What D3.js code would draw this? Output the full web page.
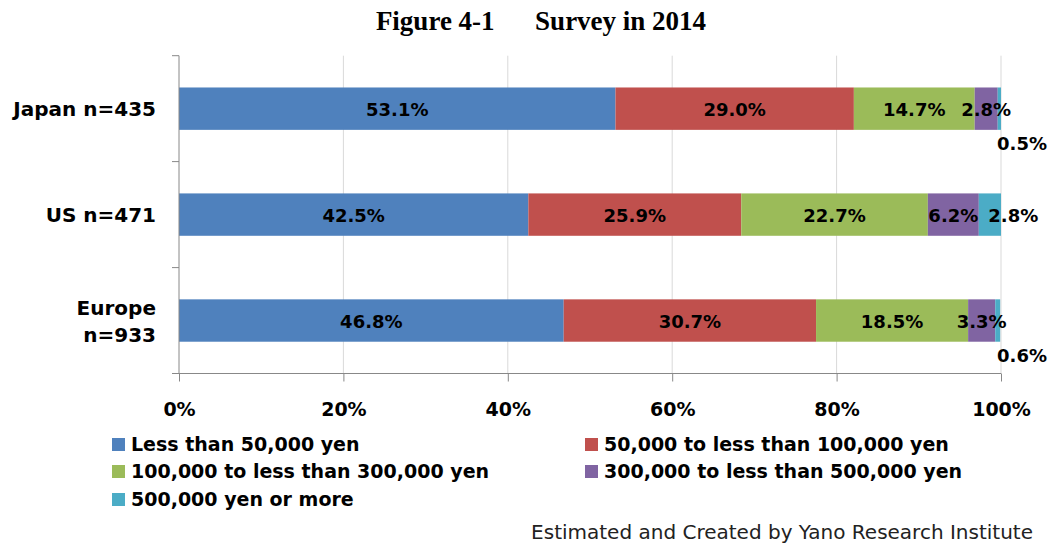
<!DOCTYPE html>
<html><head><meta charset="utf-8">
<script src="https://cdn.jsdelivr.net/npm/d3@7"></script>
<style>body{margin:0;background:#fff}svg{display:block}</style>
</head><body>
<svg id="c" width="1051" height="544"></svg>
<script>
const categories = ["Japan n=435", "US n=471", "Europe n=933"];
const seriesNames = ["Less than 50,000 yen", "50,000 to less than 100,000 yen", "100,000 to less than 300,000 yen", "300,000 to less than 500,000 yen", "500,000 yen or more"];
const japan = [53.1, 29.0, 14.7, 2.8, 0.5];
const us = [42.5, 25.9, 22.7, 6.2, 2.8];
const europe = [46.8, 30.7, 18.5, 3.3, 0.6];
const xTicks = [0, 20, 40, 60, 80, 100];
const colors = ["#4F81BD", "#C0504D", "#9BBB59", "#8064A2", "#4BACC6"];

const values = [japan, us, europe];
const svg = d3.select("#c");
const font = "'DejaVu Sans',sans-serif";

const x = d3.scaleLinear().domain([0, 100]).range([179, 1001]);
const y = d3.scaleBand().domain(categories).range([55.7, 373.5]).paddingInner(0.6).paddingOuter(0.3);

// title
svg.append("text").attr("x", 541).attr("y", 30).attr("text-anchor", "middle")
  .style("font-family", "'Liberation Serif','Times New Roman',serif").style("font-weight", "bold").style("font-size", "27px")
  .attr("xml:space", "preserve").text("Figure 4-1      Survey in 2014");

// gridlines
svg.append("g").selectAll("line").data(xTicks.filter(d => d > 0)).join("line")
  .attr("x1", d => x(d)).attr("x2", d => x(d)).attr("y1", 55.7).attr("y2", 373.5)
  .attr("stroke", "#d9d9d9").attr("stroke-width", 1);

// bars
const stackData = categories.map((c, i) => {
  let acc = 0;
  return values[i].map((v, j) => { const s = acc; acc += v; return {cat: c, j, v, s, e: acc}; });
});
const g = svg.append("g");
stackData.forEach(row => {
  g.selectAll(null).data(row).join("rect")
    .attr("x", d => x(d.s)).attr("width", d => Math.max(0, Math.min(x(d.e), x(100)) - x(d.s)))
    .attr("y", d => y(d.cat)).attr("height", y.bandwidth())
    .attr("fill", d => colors[d.j]);
});

// x axis
const xAxis = d3.axisBottom(x).tickValues(xTicks).tickFormat(d => d + "%").tickSize(8);
const xa = svg.append("g").attr("transform", "translate(0,373.5)").call(xAxis);
xa.select(".domain").attr("stroke", "#888").attr("d", "M179,0H1001");
xa.selectAll(".tick line").attr("stroke", "#888");
xa.selectAll(".tick text").attr("dy", "0").attr("y", 42)
  .style("font-family", font).style("font-weight", "bold").style("font-size", "19px").attr("fill", "#000");

// y axis
const yAxis = d3.axisLeft(y).tickSize(0).tickFormat("");
const ya = svg.append("g").attr("transform", "translate(179,0)").call(yAxis);
ya.select(".domain").attr("stroke", "#888").attr("d", "M0,55.7V373.5");
const bounds = [55.7, 161.6, 267.6, 373.5];
ya.selectAll(".bt").data(bounds).join("line").attr("class", "bt")
  .attr("x1", -7).attr("x2", 0).attr("y1", d => d).attr("y2", d => d).attr("stroke", "#888");

// category labels
categories.forEach((c, i) => {
  const cy = y(c) + y.bandwidth() / 2;
  const t = svg.append("text").attr("text-anchor", "end").attr("x", 156)
    .style("font-family", font).style("font-weight", "bold").style("font-size", "20px").attr("fill", "#000");
  if (c.startsWith("Europe")) {
    t.append("tspan").attr("x", 156).attr("y", cy - 6).text("Europe");
    t.append("tspan").attr("x", 156).attr("y", cy + 21).text(c.replace("Europe ", ""));
  } else {
    t.attr("y", cy + 7).text(c);
  }
});

// data labels
const labelShift = {"US n=471-4": 23};
stackData.forEach(row => {
  row.forEach(d => {
    let lx = x((d.s + d.e) / 2), ly = y(d.cat) + y.bandwidth() / 2 + 7;
    if (d.v < 1) { lx = x(100) + 21; ly = y(d.cat) + y.bandwidth() + 20; }
    lx += labelShift[d.cat + "-" + d.j] || 0;
    svg.append("text").attr("x", lx).attr("y", ly).attr("text-anchor", "middle")
      .style("font-family", font).style("font-weight", "bold").style("font-size", "18px").attr("fill", "#000")
      .text(d.v.toFixed(1) + "%");
  });
});

// legend
const legPos = [[112, 450], [585, 450], [112, 477], [585, 477], [112, 505]];
seriesNames.forEach((n, i) => {
  const [lx, ly] = legPos[i];
  svg.append("rect").attr("x", lx).attr("y", ly - 12).attr("width", 13).attr("height", 13).attr("fill", colors[i]);
  svg.append("text").attr("x", lx + 19).attr("y", ly + 1)
    .style("font-family", font).style("font-weight", "bold").style("font-size", "19px").attr("fill", "#000").text(n);
});

// footer
svg.append("text").attr("x", 1033).attr("y", 539).attr("text-anchor", "end")
  .style("font-family", font).style("font-size", "20px").attr("fill", "#222")
  .text("Estimated and Created by Yano Research Institute");
</script>
</body></html>
